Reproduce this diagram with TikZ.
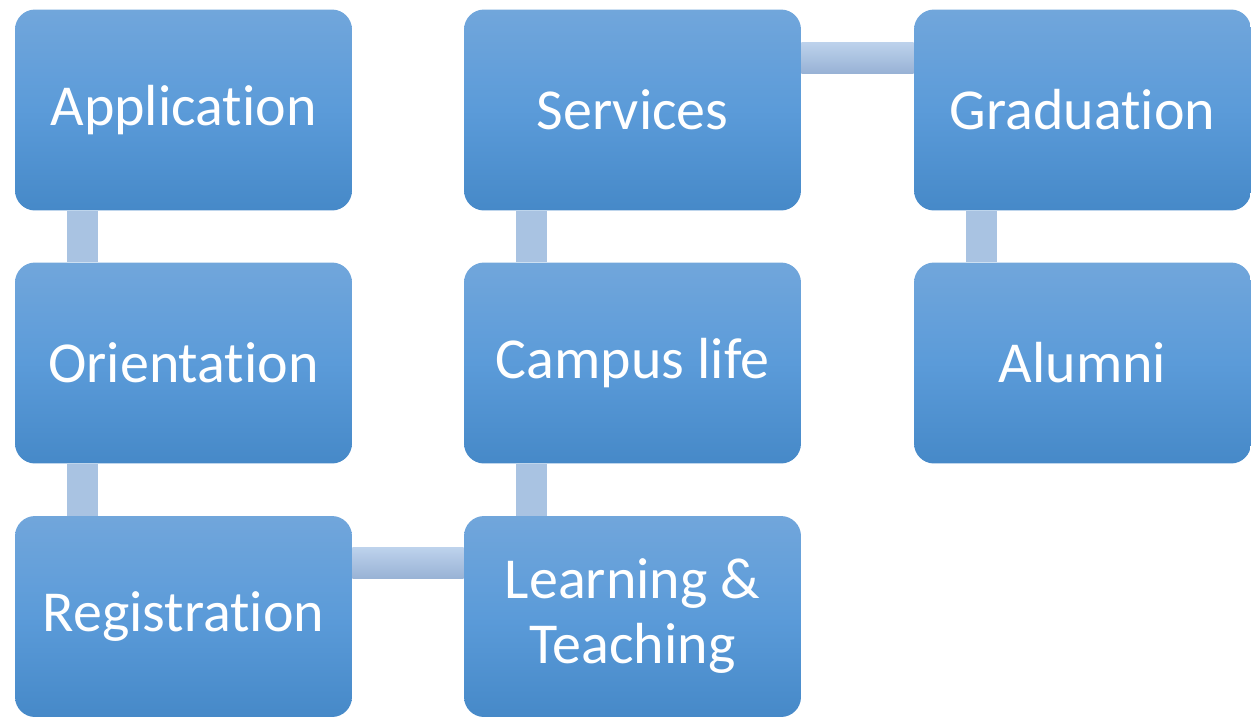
\documentclass[tikz,border=0pt]{standalone}
\usepackage{fontspec}
\setmainfont[RawFeature={-liga;-clig;-dlig;-calt;-rlig}]{Carlito}
\newcommand{\nolig}{\kern0pt{}}
\definecolor{boxtop}{HTML}{71A6DB}
\definecolor{boxmid}{HTML}{5B9BD9}
\definecolor{boxbot}{HTML}{4689C8}
\definecolor{vconn}{HTML}{A9C3E2}
\definecolor{hconntop}{HTML}{BDD2EC}
\definecolor{hconnbot}{HTML}{98B2D5}
\tikzset{
  stage/.style={rectangle, rounded corners=0.4cm, minimum width=6.74cm, minimum height=4.02cm,
    top color=boxtop, bottom color=boxbot, middle color=boxmid, draw=none,
    text=white, align=center, font=\fontsize{33}{37}\selectfont, inner sep=0pt},
  vlink/.style={fill=vconn, draw=none},
  hlink/.style={top color=hconntop, bottom color=hconnbot, draw=none}
}
\begin{document}
\begin{tikzpicture}[x=0.02cm,y=-0.02cm]
\useasboundingbox (0,0) rectangle (1260,717);
\node[stage] (app) at (183.5,110) {Applicat\nolig ion};
\node[stage] (ori) at (183.5,363) {Orientat\nolig ion};
\node[stage] (reg) at (183.5,616.5) {Registrat\nolig ion};
\node[stage] (learn) at (632.5,616.5) {Learning \&\\Teaching};
\node[stage] (camp) at (632.5,363) {Campus life};
\node[stage] (serv) at (632.5,110) {Services};
\node[stage] (grad) at (1082.5,110) {Graduat\nolig ion};
\node[stage] (alum) at (1082.5,363) {Alumni};
\fill[vlink] ([xshift=1.04cm]app.south west) rectangle ([xshift=1.66cm]ori.north west);
\fill[vlink] ([xshift=1.04cm]ori.south west) rectangle ([xshift=1.66cm]reg.north west);
\shade[hlink] ([yshift=-0.64cm]reg.north east) rectangle ([yshift=-1.26cm]learn.north west);
\fill[vlink] ([xshift=1.04cm]learn.north west) rectangle ([xshift=1.66cm]camp.south west);
\fill[vlink] ([xshift=1.04cm]camp.north west) rectangle ([xshift=1.66cm]serv.south west);
\shade[hlink] ([yshift=-0.66cm]serv.north east) rectangle ([yshift=-1.28cm]grad.north west);
\fill[vlink] ([xshift=1.04cm]grad.south west) rectangle ([xshift=1.66cm]alum.north west);
\end{tikzpicture}
\end{document}
